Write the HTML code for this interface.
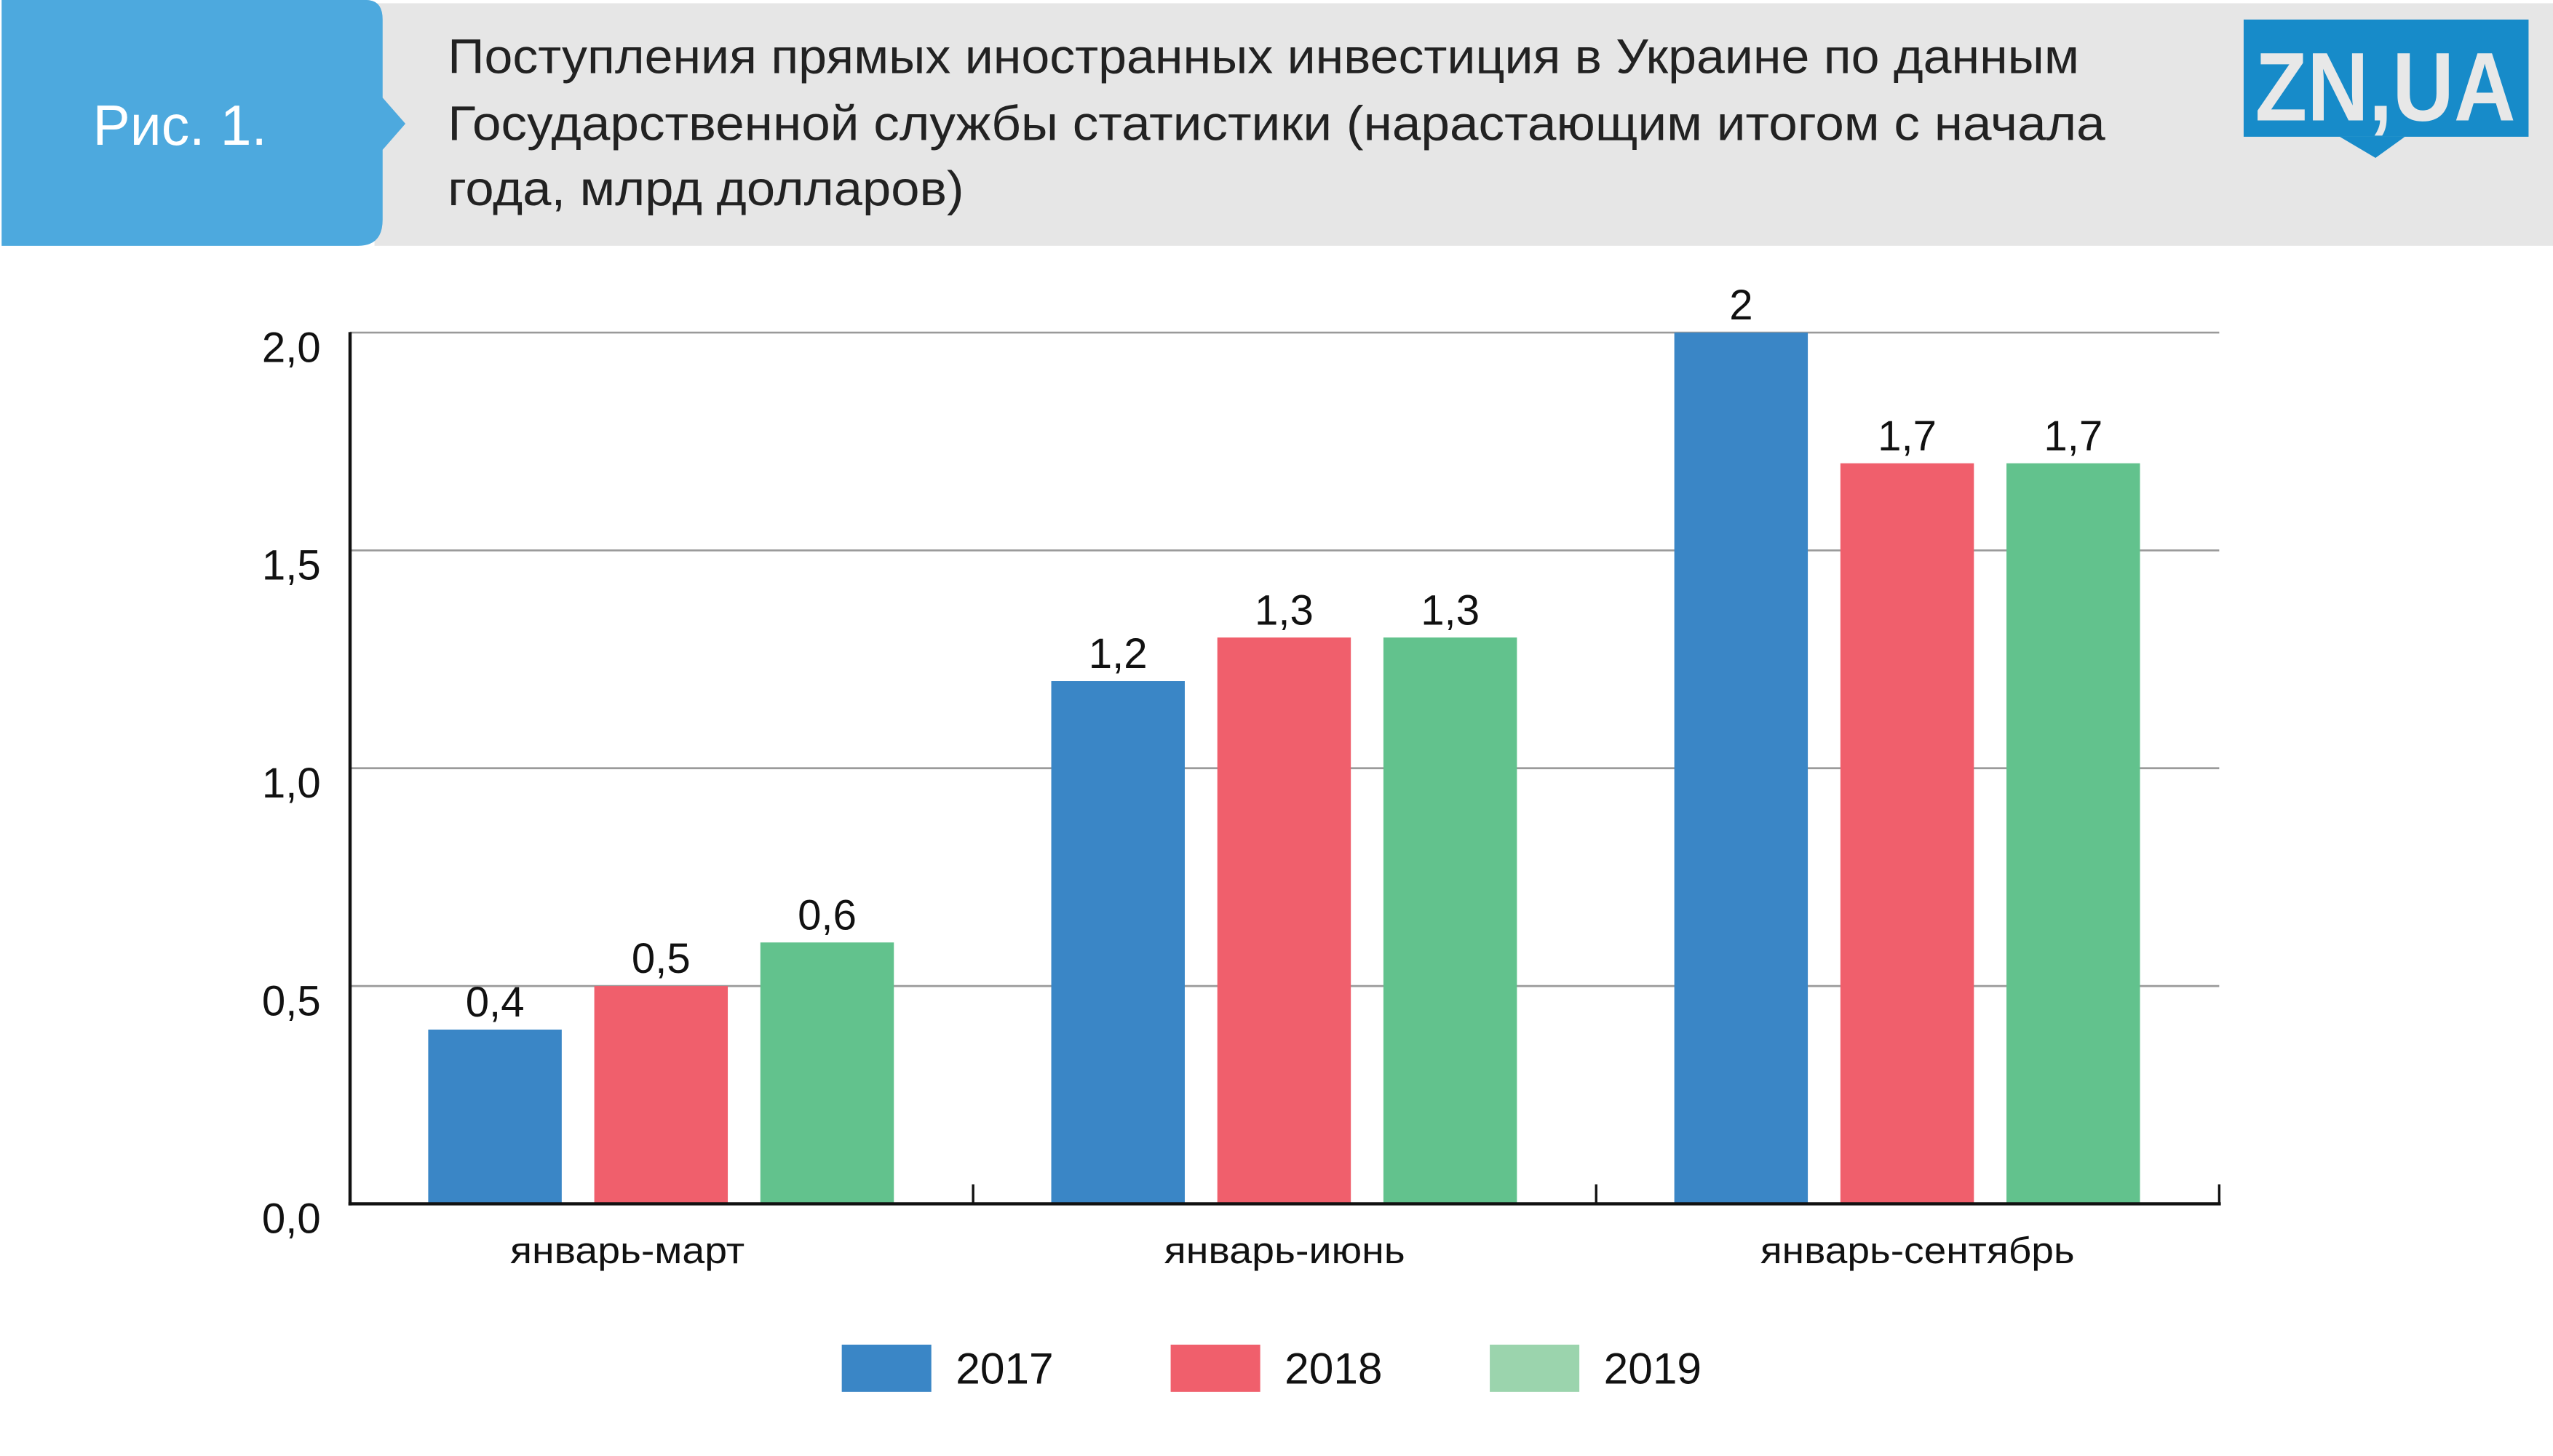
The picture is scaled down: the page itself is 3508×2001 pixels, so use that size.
<!DOCTYPE html>
<html><head><meta charset="utf-8"><style>
html,body{margin:0;padding:0;background:#fff;}
svg{display:block;}
text{font-family:"Liberation Sans","DejaVu Sans",sans-serif;}
</style></head><body>
<svg id="chart" width="3508" height="2001" viewBox="0 0 1568 894.4" xmlns="http://www.w3.org/2000/svg">
<rect x="0" y="0" width="1568" height="894.4" fill="#fff"/>
<g>
<rect x="230" y="2" width="1338" height="149" fill="#e6e6e6"/>
<path d="M1,0 H225 Q235,0 235,12 V60 L249,76 L235,92 V135 Q235,151 220,151 H1 Z" fill="#4da9de"/>
<text x="57" y="89" font-size="35" fill="#fff" textLength="107" lengthAdjust="spacingAndGlyphs">Рис. 1.</text>
<g font-size="30" fill="#222">
<text x="275" y="45" textLength="1002" lengthAdjust="spacingAndGlyphs">Поступления прямых иностранных инвестиция в Украине по данным</text>
<text x="275" y="86" textLength="1018" lengthAdjust="spacingAndGlyphs">Государственной службы статистики (нарастающим итогом с начала</text>
<text x="275" y="126" textLength="317" lengthAdjust="spacingAndGlyphs">года, млрд долларов)</text>
</g>
<g>
<rect x="1378" y="12" width="175" height="72" fill="#178bc9"/>
<path d="M1437,84 L1459,97 L1477,84 Z" fill="#178bc9"/>
<text x="1465" y="74" font-size="60" font-weight="bold" fill="#e8e8e8" text-anchor="middle" textLength="160" lengthAdjust="spacingAndGlyphs">ZN,UA</text>
</g>
</g>
<g id="plot"></g>
</svg>
<script>
const categories = ["январь-март","январь-июнь","январь-сентябрь"];
const seriesNames = ["2017","2018","2019"];
const values2017 = [0.4, 1.2, 2.0];
const values2018 = [0.5, 1.3, 1.7];
const values2019 = [0.6, 1.3, 1.7];
const valueLabels2017 = ["0,4","1,2","2"];
const valueLabels2018 = ["0,5","1,3","1,7"];
const valueLabels2019 = ["0,6","1,3","1,7"];
const yTicks = [0, 0.5, 1.0, 1.5, 2.0];
const yTickLabels = ["0,0","0,5","1,0","1,5","2,0"];

const NS = "http://www.w3.org/2000/svg";
const plot = document.getElementById('plot');
const X0 = 215, X1 = 1363, Y0 = 739.5, PX_PER_UNIT = 267.6;
const colors = ["#3a86c6", "#f05f6c", "#62c28d"];
const legendColors = ["#3a86c6", "#f05f6c", "#9bd4ad"];
const allValues = [values2017, values2018, values2019];
const allLabels = [valueLabels2017, valueLabels2018, valueLabels2019];
function y(v){ return Y0 - v * PX_PER_UNIT; }
const groupW = (X1 - X0) / categories.length;
function xBar(ci, si){ return X0 + ci * groupW + 48 + si * 102; }
function mk(tag, attrs, txt){
  const e = document.createElementNS(NS, tag);
  for (const k in attrs) e.setAttribute(k, attrs[k]);
  if (txt !== undefined) e.textContent = txt;
  plot.appendChild(e);
  return e;
}
yTicks.forEach((t, i) => {
  if (t > 0) {
    const g = mk('line', {x1: X0, x2: X1, y1: y(t), y2: y(t), stroke: '#9a9a9a', 'stroke-width': 1.2});
    
    
  }
  const l = mk('text', {x: 197, y: y(t) + 18, 'font-size': 26, 'text-anchor': 'end', fill: '#111'}, yTickLabels[i]);
  
  
});
allValues.forEach((vals, si) => {
  vals.forEach((v, ci) => {
    const bx = xBar(ci, si);
    const r = mk('rect', {x: bx, y: y(v), width: 82, height: Y0 - y(v), fill: colors[si]});
    
    
    const t = mk('text', {x: bx + 41, y: y(v) - 8, 'font-size': 26, 'text-anchor': 'middle', fill: '#111'}, allLabels[si][ci]);
    
    
  });
});
const ya = mk('line', {x1: X0, x2: X0, y1: 204, y2: Y0 + 1, stroke: '#111', 'stroke-width': 2});


const xa = mk('line', {x1: X0 - 1, x2: X1 + 1, y1: Y0, y2: Y0, stroke: '#111', 'stroke-width': 2});


const catLabelCenterOffset = [-21, 0, 6];
const catLabelWidth = [144, 148, 193];
categories.forEach((c, ci) => {
  const tx = X0 + (ci + 1) * groupW;
  const tk = mk('line', {x1: tx, x2: tx, y1: Y0 - 12, y2: Y0, stroke: '#111', 'stroke-width': 1.5});
  
  
  const lab = mk('text', {x: X0 + ci * groupW + groupW / 2 + catLabelCenterOffset[ci], y: 776, 'font-size': 23, 'text-anchor': 'middle', fill: '#111', textLength: catLabelWidth[ci], lengthAdjust: 'spacingAndGlyphs'}, c);
  
  
});
const legX = [517, 719, 915];
seriesNames.forEach((s, si) => {
  const r = mk('rect', {x: legX[si], y: 826, width: 55, height: 29, fill: legendColors[si]});
  
  
  const t = mk('text', {x: legX[si] + 70, y: 850, 'font-size': 27, fill: '#111'}, s);
  
  
});
</script>
</body></html>
